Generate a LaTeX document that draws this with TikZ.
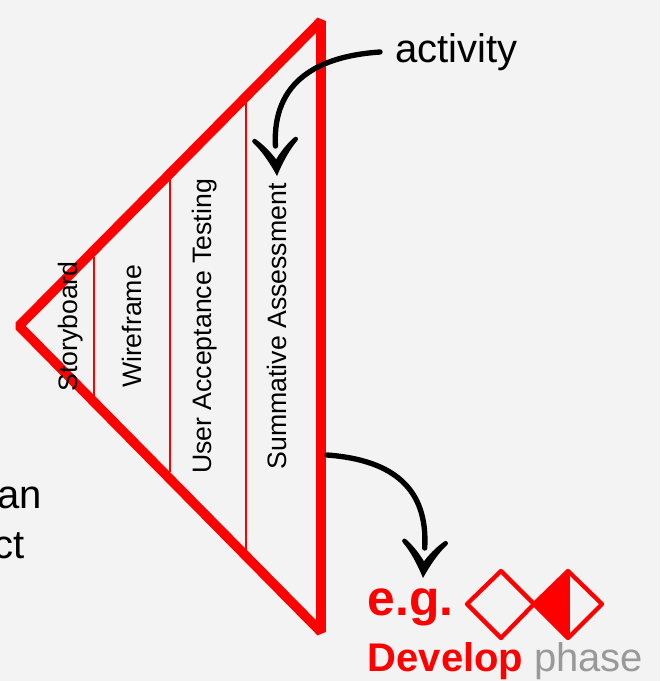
\documentclass[tikz,border=0pt]{standalone}
\usepackage{fontspec}
\setmainfont{Liberation Sans}
\usetikzlibrary{arrows.meta}
\definecolor{bgc}{HTML}{F3F3F3}
\definecolor{gph}{HTML}{999999}
\definecolor{redc}{HTML}{FF0000}
\pgfdeclarearrow{
  name=Chev,
  setup code={
    \pgfarrowssettipend{0pt}
    \pgfarrowssetlineend{-22.5pt}
    \pgfarrowssetvisualbackend{-28pt}
    \pgfarrowssetbackend{-28pt}
  },
  drawing code={
    \pgfpathmoveto{\pgfpoint{0pt}{0pt}}
    \pgfpathcurveto{\pgfpoint{-10.5pt}{5pt}}{\pgfpoint{-20pt}{11pt}}{\pgfpoint{-25.7pt}{16.6pt}}
    \pgfpathlineto{\pgfpoint{-28.3pt}{14.4pt}}
    \pgfpathcurveto{\pgfpoint{-23pt}{7.75pt}}{\pgfpoint{-17pt}{3pt}}{\pgfpoint{-12.5pt}{0pt}}
    \pgfpathcurveto{\pgfpoint{-17pt}{-3pt}}{\pgfpoint{-23pt}{-7.75pt}}{\pgfpoint{-28.3pt}{-14.4pt}}
    \pgfpathlineto{\pgfpoint{-25.7pt}{-16.6pt}}
    \pgfpathcurveto{\pgfpoint{-20pt}{-11pt}}{\pgfpoint{-10.5pt}{-5pt}}{\pgfpoint{0pt}{0pt}}
    \pgfpathclose
    \pgfpathcircle{\pgfpoint{-27pt}{15.5pt}}{1.7pt}
    \pgfpathcircle{\pgfpoint{-27pt}{-15.5pt}}{1.7pt}
    \pgfsetnonzerorule
    \pgfusepathqfill
  },
  defaults={}
}
\tikzset{
  px/.style={x=0.75pt,y=-0.75pt},
  tri/.style={draw=redc,line width=7.2pt,line join=bevel},
  div/.style={draw=redc,line width=1pt},
  rot/.style={rotate=90,anchor=base,inner sep=0pt,font=\fontsize{20pt}{22pt}\selectfont},
  big/.style={anchor=base west,inner sep=0pt,font=\fontsize{30pt}{34pt}\selectfont},
  ptr/.style={draw=black,line width=4pt,line cap=round,-{Chev}},
  dia/.style={draw=redc,line width=3.2pt,line join=round},
}
\begin{document}
\begin{tikzpicture}[px]
\useasboundingbox[fill=bgc] (0,0) rectangle (660,681);
% triangle
\draw[tri] (321,21) -- (19,326) -- (321,632) -- cycle;
\coordinate (a1) at (94,257); \coordinate (a2) at (94,397);
\coordinate (b1) at (170,178); \coordinate (b2) at (170,472);
\coordinate (c1) at (246,102); \coordinate (c2) at (246,550);
\draw[div] (a1) -- (a2);
\draw[div] (b1) -- (b2);
\draw[div] (c1) -- (c2);
% rotated labels
\node[rot] (story) at (77.5,326.5) {Storyboard};
\node[rot] (wire) at (141.5,326.5) {Wireframe};
\node[rot] (uat) at (211,326.5) {User Acceptance Testing};
\node[rot] (sum) at (286.5,326.5) {Summative Assessment};
% texts
\node[big] (act) at (395,63) {activity};
\node[big,anchor=base east] (an) at (42,508) {an};
\node[big,anchor=base east] (ct) at (25,558) {ct};
\node[big,anchor=base west,text=redc,font=\fontsize{37.3pt}{40pt}\selectfont\bfseries] (eg) at (367.5,615) {e.g.};
\node[big,text=redc,font=\fontsize{30pt}{34pt}\selectfont\bfseries] (dev) at (367.5,671) {Develop};
\node[big,text=gph] (phase) at (534,671) {phase};
% arrows
\coordinate (s1) at (380,52);
\coordinate (e1) at (277,176);
\coordinate (s2) at (327,455);
\coordinate (e2) at (423,578);
\draw[ptr] (s1) .. controls (320,56) and (272,80) .. (e1);
\draw[ptr] (s2) .. controls (395,460) and (428,490) .. (e2);
% diamonds
\fill[redc] (534,604) -- (568,571) -- (568,638) -- cycle;
\draw[dia] (467,604) -- (501,571) -- (534,604) -- (501,638) -- cycle;
\draw[dia] (534,604) -- (568,571) -- (602,604) -- (568,638) -- cycle;
\draw[dia,line width=2.4pt] (568,571) -- (568,638);
\end{tikzpicture}
\end{document}
